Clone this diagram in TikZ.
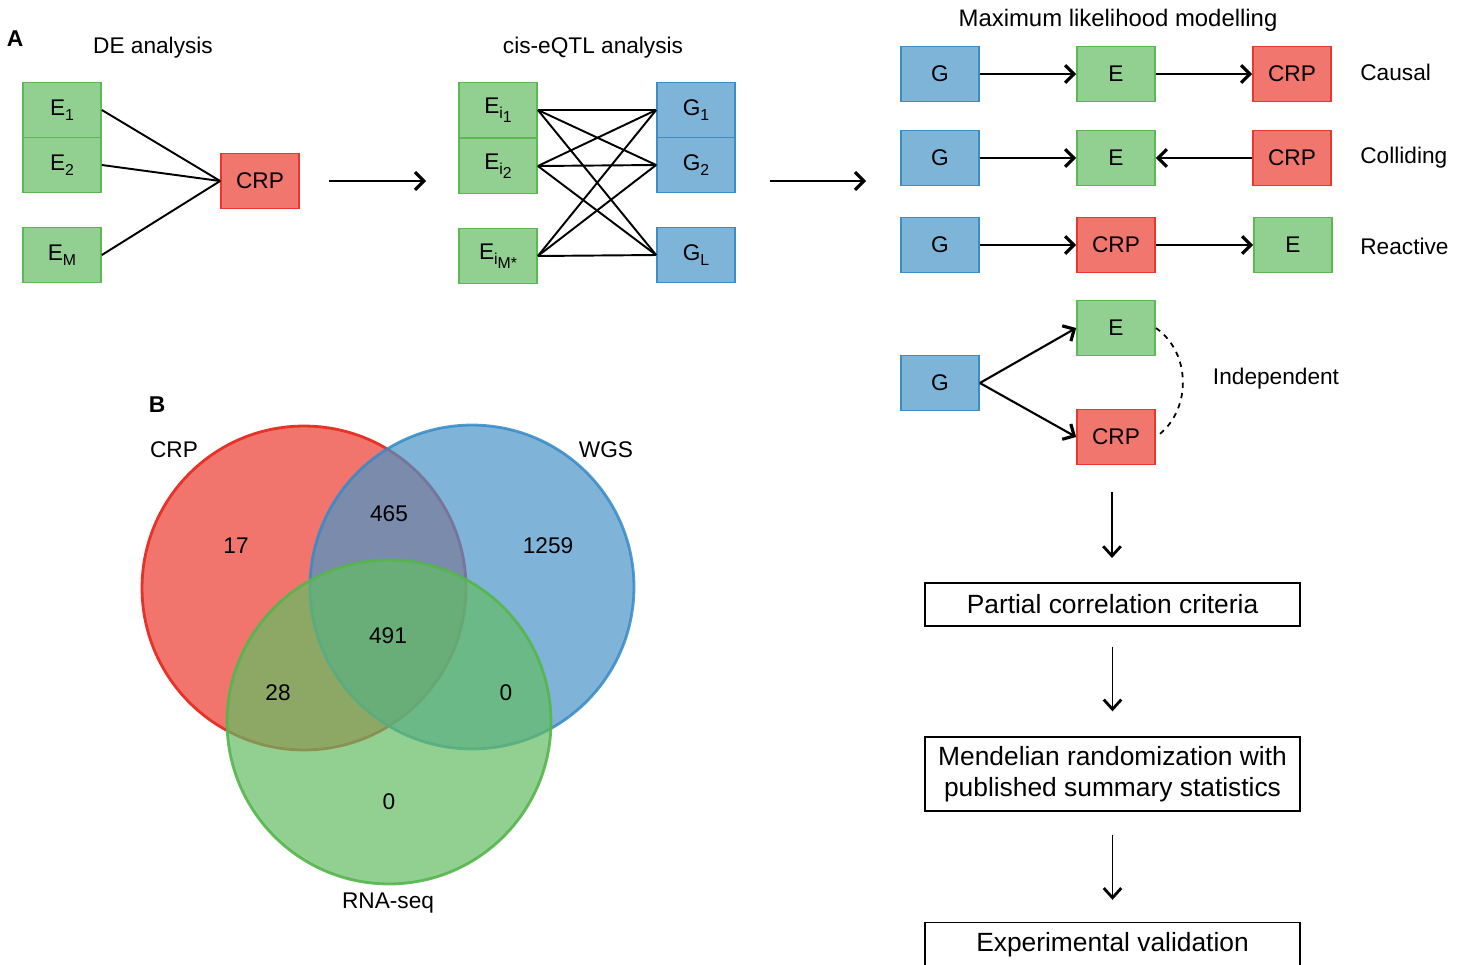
\documentclass[tikz,border=0pt]{standalone}
\usepackage{fontspec}
\setmainfont{Liberation Sans}
\usetikzlibrary{arrows.meta}
\definecolor{gfill}{RGB}{146,208,146}
\definecolor{gline}{RGB}{92,184,80}
\definecolor{bfill}{RGB}{127,180,217}
\definecolor{bline}{RGB}{60,140,198}
\definecolor{rfill}{RGB}{241,118,109}
\definecolor{rline}{RGB}{233,55,45}
\definecolor{vr}{RGB}{235,59,46}
\definecolor{vb}{RGB}{72,148,200}
\definecolor{vg}{RGB}{99,188,99}
\definecolor{vrl}{RGB}{232,50,40}
\definecolor{vbl}{RGB}{55,138,198}
\definecolor{vgl}{RGB}{85,182,75}
\newcommand\lsub[1]{\raisebox{-0.45ex}{\fontsize{9}{9}\selectfont #1}}
\begin{document}
\begin{tikzpicture}[x=0.02cm,y=-0.02cm,font=\fontsize{12.9}{15}\selectfont,
  bx/.style={draw,line width=1pt,minimum width=1.56cm,minimum height=1.1cm,inner sep=0pt},
  gbox/.style={bx,fill=gfill,draw=gline},
  bbox/.style={bx,fill=bfill,draw=bline},
  rbox/.style={bx,fill=rfill,draw=rline},
  lnk/.style={line width=1.1pt},
  arr/.style={line width=1.2pt,-{Straight Barb[length=5pt,width=10pt,line width=1.8pt]}},
  varr/.style={line width=0.9pt,-{Straight Barb[length=5.5pt,width=10pt,line width=1.6pt]}},
  flow/.style={draw,line width=0.8pt,minimum width=7.5cm,inner sep=0pt,font=\fontsize{15}{18}\selectfont,align=center},
  lbl/.style={inner sep=0pt}]
\useasboundingbox (0,0) rectangle (1463,964);

% ---- Panel A: DE analysis
\node[lbl,font=\fontsize{13}{15}\selectfont\bfseries] (labA) at (15,39) {A};
\node[lbl] (tDE) at (153,48) {DE analysis};
\node[gbox] (e1) at (62,110) {E\lsub{1}};
\node[gbox] (e2) at (62,165) {E\lsub{2}};
\node[gbox] (em) at (62,255) {E\lsub{M}};
\node[rbox] (crp0) at (260,181) {CRP};
\foreach \n in {e1,e2,em} \draw[lnk] (\n.east) -- (crp0.west);
\coordinate (a1s) at (329,181);
\coordinate (a1e) at (426,181);
\draw[arr] (a1s) -- (a1e);

% ---- cis-eQTL
\node[lbl] (tQ) at (593,48) {cis-eQTL analysis};
\node[gbox] (ei1) at (498,110) {E\lsub{i\lsub{1}}};
\node[gbox] (ei2) at (498,166) {E\lsub{i\lsub{2}}};
\node[gbox] (eim) at (498,256) {E\lsub{i\lsub{M*}}};
\node[bbox] (g1) at (696,110) {G\lsub{1}};
\node[bbox] (g2) at (696,165) {G\lsub{2}};
\node[bbox] (gl) at (696,255) {G\lsub{L}};
\foreach \a in {ei1,ei2,eim} \foreach \b in {g1,g2,gl} \draw[lnk] (\a.east) -- (\b.west);
\coordinate (a2s) at (770,181);
\coordinate (a2e) at (866,181);
\draw[arr] (a2s) -- (a2e);

% ---- Maximum likelihood modelling
\node[lbl,font=\fontsize{13.6}{16}\selectfont] (tML) at (1118,20) {Maximum likelihood modelling};
% causal
\node[bbox] (ga) at (940,74) {G};
\node[gbox] (ea) at (1116,74) {E};
\node[rbox] (ca) at (1292,74) {CRP};
\draw[arr] (ga) -- (ea);
\draw[arr] (ea) -- (ca);
\node[lbl,anchor=west] (lCa) at (1360,72) {Causal};
% colliding
\node[bbox] (gb) at (940,158) {G};
\node[gbox] (eb) at (1116,158) {E};
\node[rbox] (cb) at (1292,158) {CRP};
\draw[arr] (gb) -- (eb);
\draw[arr] (cb) -- (eb);
\node[lbl,anchor=west] (lCo) at (1360,158) {Colliding};
% reactive
\node[bbox] (gc) at (940,245) {G};
\node[rbox] (cc) at (1116,245) {CRP};
\node[gbox] (ec) at (1293,245) {E};
\draw[arr] (gc) -- (cc);
\draw[arr] (cc) -- (ec);
\node[lbl,anchor=west] (lRe) at (1360,246) {Reactive};
% independent
\node[bbox] (gd) at (940,383) {G};
\node[gbox] (ed) at (1116,328) {E};
\node[rbox] (cd) at (1116,437) {CRP};
\draw[arr] (gd.east) -- (ed.west);
\draw[arr] (gd.east) -- (cd.west);
\draw[line width=1pt,dashed] (ed.east) .. controls +(36,25) and +(36,-25) .. (cd.east);
\node[lbl] (lIn) at (1276,379) {Independent};

% ---- flow
\coordinate (f0) at (1112,492);
\node[flow,minimum height=0.86cm] (p1) at (1112.5,604.5) {Partial correlation criteria};
\node[flow,minimum height=1.48cm] (p2) at (1112.5,774) {Mendelian randomization with\\published summary statistics};
\node[flow,minimum height=0.9cm] (p3) at (1112.5,945) {Experimental validation};
\draw[varr] (f0) -- (1112,558);
\draw[varr] ([yshift=-0.4cm]p1.south) -- ([yshift=0.5cm]p2.north);
\draw[varr] ([yshift=-0.46cm]p2.south) -- ([yshift=0.44cm]p3.north);

% ---- Panel B: Venn
\node[lbl,font=\fontsize{13}{15}\selectfont\bfseries] (labB) at (157,405) {B};
\fill[vr,fill opacity=0.7] (304,588) circle [radius=3.24cm];
\draw[vrl,line width=1.6pt] (304,588) circle [radius=3.24cm];
\fill[vb,fill opacity=0.7] (472,587) circle [radius=3.24cm];
\draw[vbl,line width=1.6pt,draw opacity=0.85] (472,587) circle [radius=3.24cm];
\fill[vg,fill opacity=0.7] (389,722) circle [radius=3.24cm];
\draw[vgl,line width=1.6pt,draw opacity=0.9] (389,722) circle [radius=3.24cm];
\node[lbl] (vCRP) at (174,450) {CRP};
\node[lbl] (vWGS) at (606,450) {WGS};
\node[lbl] (vRNA) at (388,903) {RNA-seq};
\node[lbl] (n17) at (236,546) {17};
\node[lbl] (n465) at (389,514) {465};
\node[lbl] (n1259) at (548,546) {1259};
\node[lbl] (n491) at (388,636) {491};
\node[lbl] (n28) at (278,693) {28};
\node[lbl] (n0a) at (506,693) {0};
\node[lbl] (n0b) at (389,802) {0};
\end{tikzpicture}
\end{document}
